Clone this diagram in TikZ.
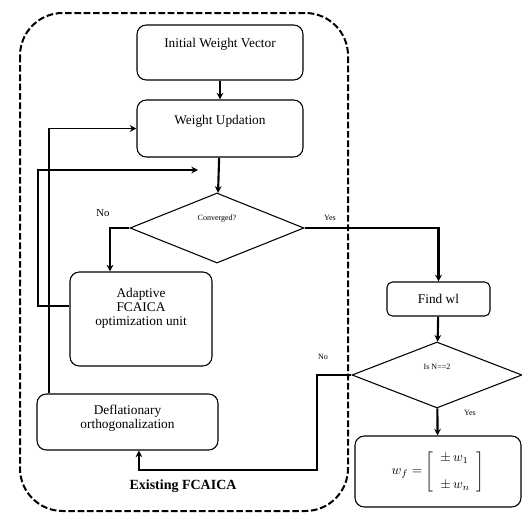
\documentclass[tikz,border=0pt]{standalone}
\usepackage{fontspec}
\setmainfont{Liberation Serif}
\usetikzlibrary{arrows.meta,shapes.geometric}
\tikzset{
  flowbox/.style={draw, line width=0.8pt, rounded corners=7pt, align=center},
  decision/.style={draw, line width=0.8pt, diamond, inner sep=0pt},
  flowarrow/.style={line width=1.6pt, -{Stealth[length=5pt,width=5pt]}},
  thinarrow/.style={line width=0.8pt, -{Stealth[length=5pt,width=5pt]}},
  branch/.style={font=\fontsize{6}{7}\selectfont}
}
\begin{document}
\begin{tikzpicture}[x=0.75pt,y=-0.75pt]
  \useasboundingbox (0,0) rectangle (522,514);
  % existing FCAICA region
  \draw[dash pattern=on 5pt off 2pt, line width=1.5pt, rounded corners=32pt] (20,13) rectangle (348,511);
  \node[font=\fontsize{10.5}{12}\selectfont] (existing) at (183,486) {\textbf{Existing FCAICA}};
  % boxes
  \node[flowbox, minimum width=124.5pt, minimum height=41.25pt,
        label={[anchor=north, yshift=-7pt]north:Initial Weight Vector}] (init) at (220,52.5) {};
  \node[flowbox, minimum width=124.5pt, minimum height=42.75pt,
        label={[anchor=north, yshift=-8pt]north:Weight Updation}] (wu) at (220,128.5) {};
  \node[decision, minimum width=130.5pt, minimum height=52.5pt,
        label={[branch, yshift=7pt]center:Converged?}] (conv) at (217,228) {};
  \node[flowbox, minimum width=106.5pt, minimum height=70.5pt,
        label={[align=center, yshift=8pt, font=\linespread{0.9}\selectfont]center:Adaptive\\FCAICA\\optimization unit}] (adapt) at (141,319) {};
  \node[flowbox, minimum width=135.75pt, minimum height=42pt,
        label={[align=center, yshift=3pt, font=\linespread{0.85}\selectfont]center:Deflationary\\orthogonalization}] (defl) at (127.5,422) {};
  \node[flowbox, rounded corners=4pt, minimum width=77.25pt, minimum height=25.5pt] (find) at (438.5,299) {Find wl};
  \node[decision, minimum width=127.5pt, minimum height=49.5pt,
        label={[branch, yshift=6pt]center:Is N==2}] (isn) at (437,375) {};
  \node[flowbox, minimum width=124.5pt, minimum height=53.25pt] (result) at (438,471.5)
    {$w_f=\left[\begin{array}{l}\pm\, w_1\\[8pt] \pm\, w_n\end{array}\right]$};
  % branch labels
  \node[font=\fontsize{8}{9}\selectfont] (convno) at (103,213) {No};
  \node[branch] (convyes) at (330,218) {Yes};
  \node[branch] (isnno) at (323,357) {No};
  \node[branch] (isnyes) at (470,413) {Yes};
  % free ends of the loops
  \coordinate (loopcorner) at (38,170);
  \coordinate (loopin) at (198,170);
  \coordinate (noturn) at (317,470);
  \begin{scope}
    \draw[flowarrow] (init) to (wu);
    \draw[flowarrow] (wu) to (conv);
    \draw[flowarrow] (conv.west) -| ([xshift=-23.25pt]adapt.north);
    \draw[flowarrow] (conv.east) -| (find.north);
    \draw[flowarrow] (find) to (isn);
    \draw[flowarrow] (isn) to (result);
    \draw[flowarrow] ([yshift=9.75pt]adapt.west) -| (loopcorner) -- (loopin);
    \draw[thinarrow] ([xshift=-58.9pt]defl.north) |- (wu.west);
    \draw[thinarrow] (isn.west) -| (noturn) -| ([xshift=8.6pt]defl.south);
  \end{scope}
\end{tikzpicture}
\end{document}
